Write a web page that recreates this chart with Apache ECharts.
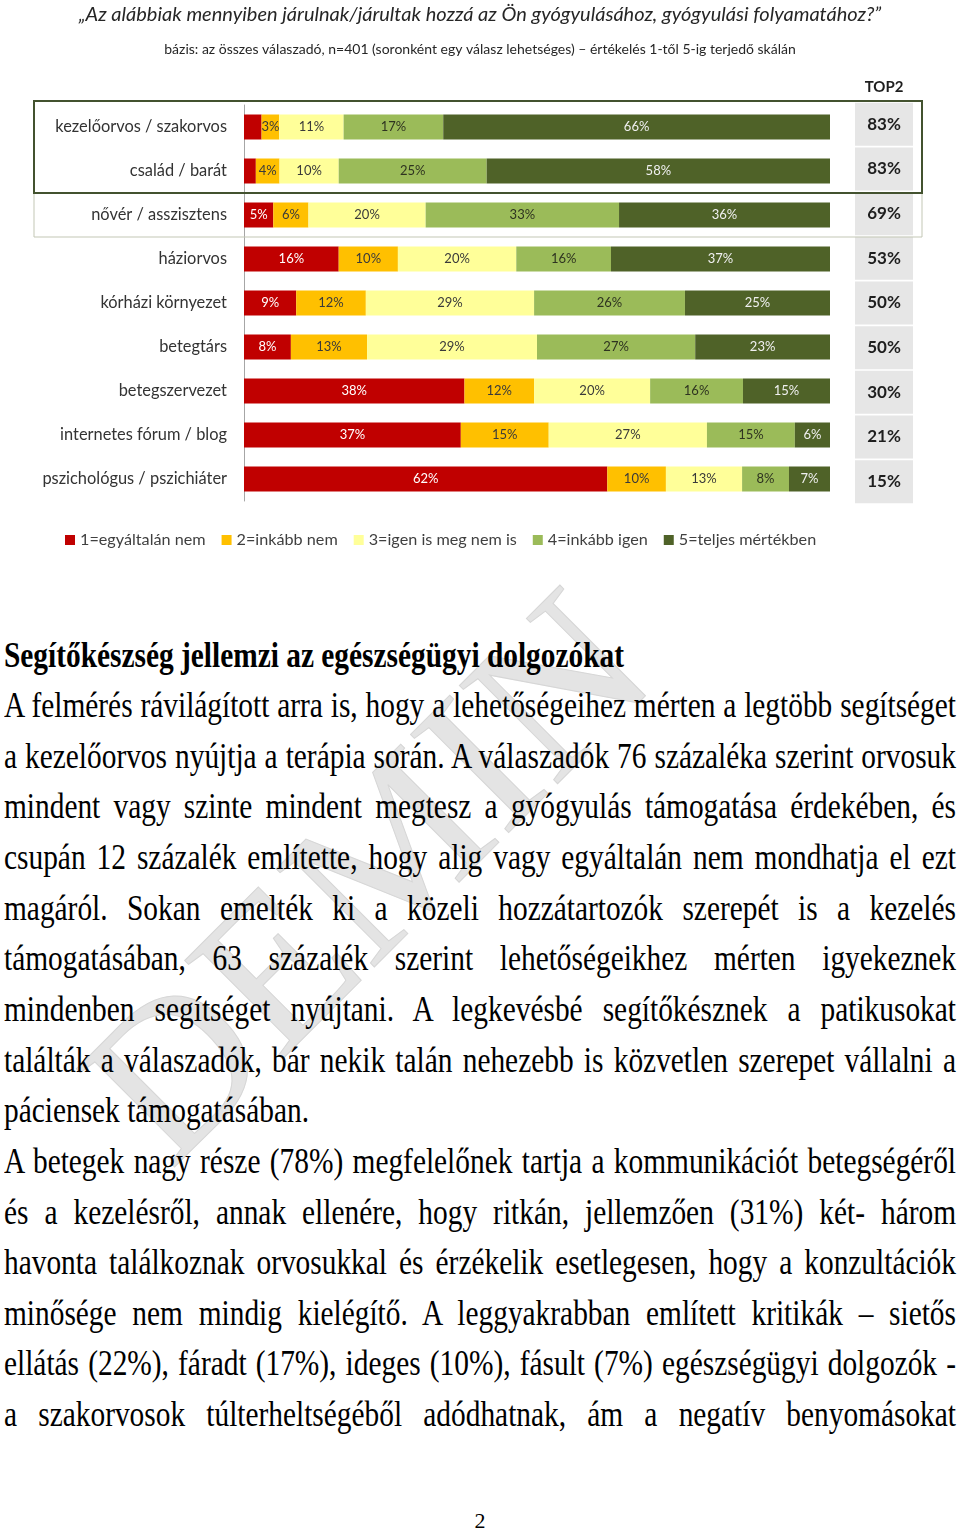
<!DOCTYPE html>
<html><head><meta charset="utf-8">
<script src="https://cdn.jsdelivr.net/npm/echarts@6/dist/echarts.min.js"></script>
<style>
html,body{margin:0;padding:0;background:#fff;}
#page{position:relative;width:960px;height:1529px;overflow:hidden;background:#fff;}
#chart{position:absolute;left:0;top:0;width:960px;height:570px;z-index:2;}
#wm{position:absolute;left:0;top:566px;width:960px;height:760px;overflow:hidden;z-index:0;}
#wm span{position:absolute;left:45px;top:480px;font-family:"Liberation Serif",serif;font-size:212px;line-height:1;color:#e4e4e4;-webkit-text-stroke:1px #d6d6d6;transform:rotate(-45deg);transform-origin:0 0;white-space:nowrap;}
#text{position:absolute;left:0;top:0;width:960px;height:1529px;z-index:1;font-family:"Liberation Serif","Times New Roman",serif;color:#000;}
.ln{position:absolute;left:4px;font-size:36px;line-height:50.65px;height:50.65px;text-align:justify;text-align-last:justify;transform-origin:0 0;}
.ln.left{text-align-last:left;}
#head{font-weight:bold;text-align-last:left;}
#pnum{position:absolute;left:0;width:960px;top:1506px;text-align:center;font-family:"Liberation Serif",serif;font-size:22px;line-height:30px;}
</style></head>
<body>
<div id="page">
  <div id="wm"><span>DEMIN</span></div>
  <div id="text"></div>
  <div id="chart"></div>
  <div id="pnum">2</div>
</div>
<script>
// ---- chart data ----
const titleText = '„Az alábbiak mennyiben járulnak/járultak hozzá az Ön gyógyulásához, gyógyulási folyamatához?”';
const subtitleText = 'bázis: az összes válaszadó, n=401 (soronként egy válasz lehetséges) – értékelés 1-től 5-ig terjedő skálán';
const categories = ['kezelőorvos / szakorvos','család / barát','nővér / asszisztens','háziorvos','kórházi környezet','betegtárs','betegszervezet','internetes fórum / blog','pszichológus / pszichiáter'];
const seriesNames = ['1=egyáltalán nem','2=inkább nem','3=igen is meg nem is','4=inkább igen','5=teljes mértékben'];
const v1 = [3,2,5,16,9,8,38,37,62];
const v2 = [3,4,6,10,12,13,12,15,10];
const v3 = [11,10,20,20,29,29,20,27,13];
const v4 = [17,25,33,16,26,27,16,15,8];
const v5 = [66,58,36,37,25,23,15,6,7];
const top2 = [83,83,69,53,50,50,30,21,15];
const top2Header = 'TOP2';

// ---- text data ----
const heading = 'Segítőkészség jellemzi az egészségügyi dolgozókat';
const bodyLines = [
 'A felmérés rávilágított arra is, hogy a lehetőségeihez mérten a legtöbb segítséget',
 'a kezelőorvos nyújtja a terápia során. A válaszadók 76 százaléka szerint orvosuk',
 'mindent vagy szinte mindent megtesz a gyógyulás támogatása érdekében, és',
 'csupán 12 százalék említette, hogy alig vagy egyáltalán nem mondhatja el ezt',
 'magáról. Sokan emelték ki a közeli hozzátartozók szerepét is a kezelés',
 'támogatásában, 63 százalék szerint lehetőségeikhez mérten igyekeznek',
 'mindenben segítséget nyújtani. A legkevésbé segítőkésznek a patikusokat',
 'találták a válaszadók, bár nekik talán nehezebb is közvetlen szerepet vállalni a',
 'páciensek támogatásában.',
 'A betegek nagy része (78%) megfelelőnek tartja a kommunikációt betegségéről',
 'és a kezelésről, annak ellenére, hogy ritkán, jellemzően (31%) két- három',
 'havonta találkoznak orvosukkal és érzékelik esetlegesen, hogy a konzultációk',
 'minősége nem mindig kielégítő. A leggyakrabban említett kritikák – sietős',
 'ellátás (22%), fáradt (17%), ideges (10%), fásult (7%) egészségügyi dolgozók -',
 'a szakorvosok túlterheltségéből adódhatnak, ám a negatív benyomásokat'
];
const leftAligned = [8];

// ---- chart ----
const colors = ['#C00000','#FFC000','#FFFF99','#9BBB59','#4F6228'];
const labelColors = ['#ffffff','#3a3a3a','#3a3a3a','#2e3320','#f0f0f0'];
const raw = [v1,v2,v3,v4,v5];
const rowSum = categories.map((c,i)=>raw.reduce((s,a)=>s+a[i],0));
const FONT = 'Lato';
const GRID_TOP = 105, BAND = 44, GRID_LEFT = 244, GRID_RIGHT_X = 830;

const series = raw.map((arr,k)=>({
  name: seriesNames[k], type:'bar', stack:'all', barWidth:25,
  xAxisIndex:0, yAxisIndex:0,
  itemStyle:{color:colors[k]},
  emphasis:{disabled:true},
  label:{show:true, position:'inside', fontFamily:FONT, fontSize:13, color:labelColors[k],
    formatter:p=>{const v=arr[p.dataIndex]; return (k===0 && v<=3)?'':v+'%';}},
  data: arr.map((v,i)=>v/rowSum[i]*100)
}));
series.push({
  type:'scatter', xAxisIndex:1, yAxisIndex:1, symbol:'rect', symbolSize:[58,43],
  itemStyle:{color:'#E6E6E6', opacity:1}, emphasis:{disabled:true}, silent:true,
  label:{show:true, position:'inside', fontFamily:FONT, fontWeight:'bold', fontSize:17, color:'#1e1e1e', formatter:p=>p.value[2]+'%'},
  data: top2.map((v,i)=>[top2Header, categories[i], v])
});

const chart = echarts.init(document.getElementById('chart'), null, {renderer:'canvas'});
chart.setOption({
  animation:false,
  backgroundColor:'transparent',
  title:[
    {text:titleText, left:'center', top:0, textStyle:{fontFamily:FONT, fontStyle:'italic', fontWeight:'normal', fontSize:20, color:'#262626'}},
    {text:subtitleText, left:'center', top:37, textStyle:{fontFamily:FONT, fontWeight:'normal', fontSize:14, color:'#262626'}}
  ],
  legend:{data:seriesNames, left:65, top:532, itemWidth:10, itemHeight:10, itemGap:16, icon:'rect', padding:0,
    textStyle:{fontFamily:FONT, fontSize:16.2, color:'#404040'}, selectedMode:false},
  grid:[
    {left:GRID_LEFT, top:GRID_TOP, width:GRID_RIGHT_X-GRID_LEFT, height:BAND*categories.length},
    {left:855, top:102, width:58, height:402}
  ],
  xAxis:[
    {type:'value', min:0, max:100, gridIndex:0, show:false},
    {type:'category', data:[top2Header], gridIndex:1, position:'top', axisLine:{show:false}, axisTick:{show:false},
     axisLabel:{fontFamily:FONT, fontWeight:'bold', fontSize:15, color:'#1e1e1e', margin:7}}
  ],
  yAxis:[
    {type:'category', data:categories, inverse:true, gridIndex:0,
     axisLine:{show:true, lineStyle:{color:'#a6a6a6', width:1}}, axisTick:{show:false},
     axisLabel:{fontFamily:FONT, fontSize:16.4, color:'#333', margin:17}},
    {type:'category', data:categories, inverse:true, gridIndex:1, show:false}
  ],
  graphic:[
    {type:'rect', z:10, shape:{x:34, y:GRID_TOP+BAND*2, width:888, height:BAND}, style:{fill:'none', stroke:'#c3c7b5', lineWidth:1}},
    {type:'rect', z:11, shape:{x:34, y:GRID_TOP-4, width:888, height:BAND*2+4}, style:{fill:'none', stroke:'#43522f', lineWidth:2}}
  ],
  series
});

// ---- text layout ----
const tc = document.getElementById('text');
const LH = 50.65, HEAD_TOP = 630, BODY_TOP = 680;
const h = document.createElement('div');
h.id='head'; h.className='ln'; h.textContent=heading;
h.style.top = HEAD_TOP+'px'; h.style.width='auto'; h.style.whiteSpace='nowrap';
tc.appendChild(h);
function layout(){
  const w = h.getBoundingClientRect().width;
  const sx = 620 / w;
  h.style.transform = 'scaleX('+sx+')';
  bodyLines.forEach((t,i)=>{
    const d = document.createElement('div');
    d.className = 'ln' + (leftAligned.includes(i)?' left':'');
    d.textContent = t;
    d.style.top = (BODY_TOP + i*LH)+'px';
    d.style.width = (952/sx)+'px';
    d.style.transform = 'scaleX('+sx+')';
    tc.appendChild(d);
  });
}
if (document.fonts && document.fonts.ready) document.fonts.ready.then(layout); else layout();
</script>
</body></html>
